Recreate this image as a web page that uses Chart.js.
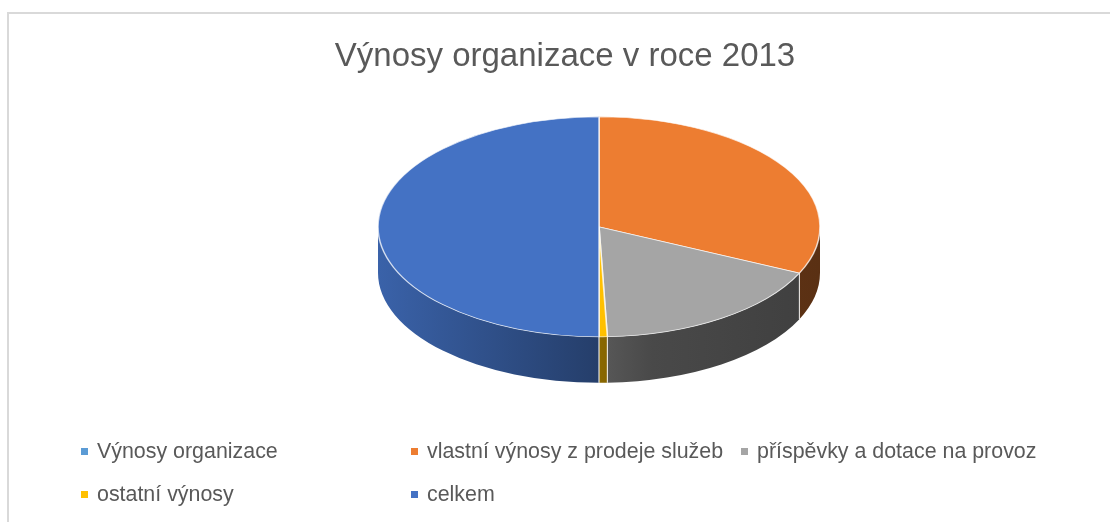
<!DOCTYPE html>
<html>
<head>
<meta charset="utf-8">
<script src="https://cdn.jsdelivr.net/npm/chart.js@4.4.0/dist/chart.umd.min.js"></script>
<style>
  html, body { margin: 0; background: #fff; overflow: hidden; }
  #wrap { position: relative; width: 1110px; height: 522px; overflow: hidden; background: #fff; }
  #frame { position: absolute; left: 7px; top: 12px; width: 1300px; height: 700px;
           border-left: 2px solid #d9d9d9; border-top: 2px solid #d9d9d9; }
  #chartBox { position: absolute; left: 0; top: 0; width: 1110px; height: 522px; }
  #legend { position: absolute; left: 81px; top: 430px; display: grid;
            grid-template-columns: 330px 330px 330px;
            font-family: "Liberation Sans", Arial, sans-serif; font-size: 21.4px; color: #595959; }
  .item { display: flex; align-items: center; height: 43px; white-space: nowrap; }
  .box { width: 7px; height: 7px; margin-right: 9px; flex: none; }
</style>
</head>
<body>
<div id="wrap">
  <div id="frame"></div>
  <div id="chartBox"><canvas id="pie"></canvas></div>
  <div id="legend"></div>
</div>
<script>
const chartTitle = "Výnosy organizace v roce 2013";
const labels = [
  "Výnosy organizace",
  "vlastní výnosy z prodeje služeb",
  "příspěvky a dotace na provoz",
  "ostatní výnosy",
  "celkem"
];
const values = [0, 5300, 2900, 100, 8300];
const colors = ["#5B9BD5", "#ED7D31", "#A5A5A5", "#FFC000", "#4472C4"];

// look of the tilted pie
const DEPTH = 46;
const STRETCH = 221 / 110;
const SHIFT_X = 34;

function shade(hex, f) {
  const n = parseInt(hex.slice(1), 16);
  const r = Math.round(((n >> 16) & 255) * f);
  const g = Math.round(((n >> 8) & 255) * f);
  const b = Math.round((n & 255) * f);
  return `rgb(${r}, ${g}, ${b})`;
}

function tilt(ctx, x, y) {
  ctx.translate(x + SHIFT_X, y);
  ctx.scale(STRETCH, 1);
  ctx.translate(-x, -y);
}

const pie3d = {
  id: "pie3d",
  beforeDatasetsDraw(chart) {
    const ctx = chart.ctx;
    const arcs = chart.getDatasetMeta(0).data;
    if (!arcs.length) return;
    const { x, y } = arcs[0];
    const edges = [];

    ctx.save();
    tilt(ctx, x, y);
    arcs.forEach((arc, i) => {
      const r = arc.outerRadius;
      const a0 = Math.max(arc.startAngle, 0);
      const a1 = Math.min(arc.endAngle, Math.PI);
      if (a1 <= a0) return;
      // light comes from the left, the wall darkens towards the right
      const grad = ctx.createLinearGradient(x - r, 0, x + r, 0);
      grad.addColorStop(0, shade(colors[i], 0.86));
      grad.addColorStop(0.5, shade(colors[i], 0.54));
      grad.addColorStop(0.62, shade(colors[i], 0.44));
      grad.addColorStop(1, shade(colors[i], 0.38));
      ctx.beginPath();
      ctx.arc(x, y, r, a0, a1);
      ctx.arc(x, y + DEPTH, r, a1, a0, true);
      ctx.closePath();
      ctx.fillStyle = grad;
      ctx.fill();
      [a0, a1].forEach(a => {
        if (a > 0.001 && a < Math.PI - 0.001) {
          edges.push([x + SHIFT_X + STRETCH * r * Math.cos(a), y + r * Math.sin(a)]);
        }
      });
    });
    ctx.restore();

    ctx.save();
    ctx.strokeStyle = "rgba(255, 255, 255, 0.6)";
    ctx.lineWidth = 1;
    edges.forEach(([ex, ey]) => {
      ctx.beginPath();
      ctx.moveTo(ex, ey);
      ctx.lineTo(ex, ey + DEPTH);
      ctx.stroke();
    });
    ctx.restore();
  },
  beforeDatasetDraw(chart, args) {
    const arcs = args.meta.data;
    chart.ctx.save();
    tilt(chart.ctx, arcs[0].x, arcs[0].y);
  },
  afterDatasetDraw(chart) {
    chart.ctx.restore();
  }
};

const pieChart = new Chart(document.getElementById("pie"), {
  type: "pie",
  data: {
    labels: labels,
    datasets: [{
      data: values,
      backgroundColor: colors,
      borderColor: "rgba(255, 255, 255, 0.7)",
      borderWidth: 0.8,
      clip: false
    }]
  },
  options: {
    responsive: true,
    maintainAspectRatio: false,
    animation: false,
    events: [],
    radius: 110,
    layout: { padding: { left: 20, right: 0, top: 0, bottom: 145 } },
    plugins: {
      legend: { display: false },
      tooltip: { enabled: false },
      title: {
        display: true,
        text: chartTitle,
        color: "#595959",
        font: { family: "Liberation Sans", size: 33, weight: "normal" },
        padding: { top: 37, bottom: 0 }
      }
    }
  },
  plugins: [pie3d]
});

const legendEl = document.getElementById("legend");
labels.forEach((label, i) => {
  const item = document.createElement("div");
  item.className = "item";
  item.innerHTML = `<span class="box" style="background:${colors[i]}"></span><span>${label}</span>`;
  legendEl.appendChild(item);
});
</script>
</body>
</html>
